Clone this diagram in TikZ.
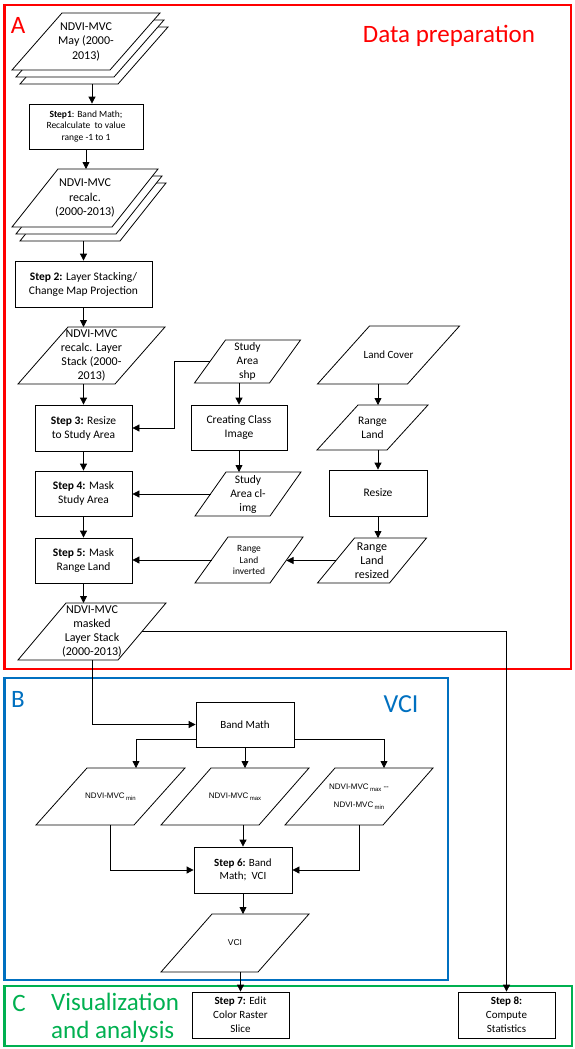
\documentclass[tikz,border=0pt]{standalone}
\usepackage{fontspec}
\setmainfont{Carlito}
\newfontfamily\arialf{Liberation Sans}
\usetikzlibrary{arrows.meta,calc}
\definecolor{fred}{HTML}{FF0000}
\definecolor{fblue}{HTML}{0070C0}
\definecolor{fgreen}{HTML}{00B050}
\newcommand\fs[2]{\fontsize{#1}{#2}\selectfont}
\newcommand\subs[1]{\raisebox{-2pt}{\fontsize{6}{7}\selectfont #1}}
\newcommand\parashape[5]{%
  \path[pline] ({#1-#3/2+#5/2},{#2-#4/2}) -- ++(#3,0) -- ++({-#5},#4) -- ++({-#3},0) -- cycle;}
\newcommand\paranode[8]{%
  \parashape{#2}{#3}{#4}{#5}{#6}
  \node[ptext, minimum width=#4, minimum height=#5, #7] (#1) at (#2,#3) {#8};}
\begin{document}
\begin{tikzpicture}[x=1pt,y=-1pt,
  box/.style={draw, line width=0.8pt, fill=white, inner sep=1pt, align=center, font=\fs{11}{13.5}},
  ptext/.style={inner sep=0pt, outer sep=0pt, align=center, font=\fs{11.5}{14}},
  pline/.style={draw, line width=0.8pt, fill=white},
  arr/.style={line width=0.8pt, -{Triangle[length=7pt,width=7pt]}},
  conn/.style={line width=0.8pt},
  frame/.style={line width=2.5pt},
  head/.style={inner sep=0pt, font=\fs{25}{30}}]
\useasboundingbox (0,0) rectangle (575,1049);

% frames
\draw[frame, fred] (4.5,5) rectangle (571,669);
\draw[frame, fblue] (4.5,678) rectangle (448,980);
\draw[frame, fgreen] (4.5,986) rectangle (572,1046);

\node[head, text=fred] (lA) at (18,25) {A};
\node[head, text=fred] (lData) at (449,36) {Data preparation};
\node[head, text=fblue] (lB) at (18,699) {B};
\node[head, text=fblue, font=\fs{26}{30}] (lVCI) at (401,704) {VCI};
\node[head, text=fgreen] (lC) at (19,1003) {C};
\node[head, text=fgreen, anchor=west] (lVis) at (51,1002) {Visualization};
\node[head, text=fgreen, anchor=west] (lAna) at (51,1032) {and analysis};

% stack 1
\parashape{94}{55.5}{98}{57}{50}
\parashape{90}{48.5}{98}{57}{50}
\paranode{s1}{86}{41.5}{98}{57}{50}{font=\fs{12}{14.5}}{NDVI-MVC\\May (2000-\\2013)}
\node[box, minimum width=114, minimum height=45, font=\fs{9.5}{11.5}] (step1) at (86,126.5)
  {\textbf{Step1}: Band Math;\\Recalculate~ to value\\range -1 to 1};
% stack 2
\parashape{93}{212}{100}{58}{46}
\parashape{89}{205}{100}{58}{46}
\paranode{s2}{85}{198}{100}{58}{46}{font=\fs{12}{14.5}}{NDVI-MVC\\recalc.\\(2000-2013)}
\node[box, minimum width=137, minimum height=46, font=\fs{11.5}{14}] (step2) at (83.5,284)
  {\textbf{Step 2:} Layer Stacking/\\Change Map Projection};
\paranode{ls}{91.5}{355.5}{97}{57}{50}{font=\fs{12}{14}}{NDVI-MVC\\recalc. Layer\\Stack (2000-\\2013)}
\node[box, minimum width=97, minimum height=46, font=\fs{11.5}{14}] (step3) at (83.5,428)
  {\textbf{Step 3:} Resize\\to Study Area};
\node[box, minimum width=97, minimum height=45, font=\fs{11.5}{14}] (step4) at (83.5,493.5)
  {\textbf{Step 4:} Mask\\Study Area};
\node[box, minimum width=97, minimum height=45, font=\fs{11.5}{14}] (step5) at (83.5,560.5)
  {\textbf{Step 5:} Mask\\Range Land};
\paranode{mk}{92}{631.5}{100}{57}{48}{font=\fs{12}{14}}{NDVI-MVC\\masked\\Layer Stack\\(2000-2013)}

% middle column
\paranode{sa}{247.5}{361.5}{75}{43}{31}{}{Study\\Area\\shp}
\node[box, minimum width=96, minimum height=45, font=\fs{11.5}{14}] (cc) at (239,427.5) {Creating Class\\Image};
\paranode{cl}{248}{494}{75}{44}{31}{}{Study\\Area cl-\\img}
\paranode{ri}{249}{560}{75}{46}{33}{font=\fs{9.5}{11.5}}{Range\\Land\\inverted}

% right column
\paranode{lc}{388.5}{355}{90}{58}{52}{font=\fs{11}{14}}{Land Cover}
\paranode{rl}{372.5}{427.5}{70}{45}{41}{}{Range\\Land}
\node[box, minimum width=98, minimum height=46, font=\fs{11.5}{14}] (rz) at (378,493) {Resize};
\paranode{rr}{372}{560.5}{72}{45}{37}{font=\fs{12}{14}}{Range\\Land\\resized}

% B section
\node[box, minimum width=98, minimum height=45] (bm) at (245,724.5) {Band Math};
\paranode{p1}{110.5}{796.5}{98}{57}{51}{font=\arialf\fs{8}{10}}{NDVI-MVC\,\subs{min}}
\paranode{p2}{235}{796.5}{98}{57}{50}{font=\arialf\fs{8}{10}}{NDVI-MVC\,\subs{max}}
\paranode{p3}{359}{796.5}{98}{57}{50}{font=\arialf\fs{8}{18}}{NDVI-MVC\,\subs{max} --\\NDVI-MVC\,\subs{min}}
\node[box, minimum width=98, minimum height=46] (step6) at (243,870) {\textbf{Step 6:} Band\\Math;~ VCI};
\paranode{vci}{235}{943}{97}{58}{51}{font=\arialf\fs{8.5}{10}}{VCI}

% C section
\node[box, minimum width=97, minimum height=46, font=\fs{11}{14}] (step7) at (240.5,1015)
  {\textbf{Step 7:} Edit\\Color Raster\\Slice};
\node[box, minimum width=97, minimum height=46, font=\fs{11}{14}] (step8) at (506.5,1015)
  {\textbf{Step 8:}\\Compute\\Statistics};

% connectors
\coordinate (s1b) at ([yshift=-14pt]s1.south);
\coordinate (s2b) at ([yshift=-14pt]s2.south);
\path ([xshift=6pt]step1.north) coordinate (t1);
\draw[arr] (t1 |- s1b) -- (t1);
\draw[arr] (step1.south) -- (step1.south |- s2.north);
\draw[arr] (step2.north |- s2b) -- (step2.north);
\draw[arr] (step2.south) -- (step2.south |- ls.north);
\draw[arr] (step3.north |- ls.south) -- (step3.north);
\draw[arr] (step3) -- (step4);
\draw[arr] (step4) -- (step5);
\draw[arr] (step5.south) -- (step5.south |- mk.north);
\draw[arr] (mk.east) -| (step8.north);
\draw[arr] (mk.south) |- (bm.west);

\draw[arr] (sa.west) -- ++(-36,0) |- (step3.east);
\draw[arr] (cc.north |- sa.south) -- (cc.north);
\draw[arr] (cc.south) -- (cc.south |- cl.north);
\draw[arr] (cl.west) -- (cl.west -| step4.east);
\draw[arr] (rz.north |- lc.south) -- (rz.north |- rl.north);
\draw[arr] (rz.north |- rl.south) -- (rz.north);
\draw[arr] (rz.south) -- (rz.south |- rr.north);
\draw[arr] (rr.west) -- (rr.west -| ri.east);
\draw[arr] (ri.west) -- (ri.west -| step5.east);

\draw[arr] ([yshift=8pt]bm.south west) -| ([xshift=25.5pt]p1.north);
\draw[arr] ([yshift=8pt]bm.south east) -| ([xshift=25pt]p3.north);
\draw[arr] (bm.south) -- (bm.south |- p2.north);
\draw[arr] (p1.south) |- (step6.west);
\draw[arr] (p3.south) |- (step6.east);
\draw[arr] (step6.north |- p2.south) -- (step6.north);
\draw[arr] (step6.south) -- (step6.south |- vci.north);
\draw[arr] (step7.north |- vci.south) -- (step7.north);
\end{tikzpicture}
\end{document}
